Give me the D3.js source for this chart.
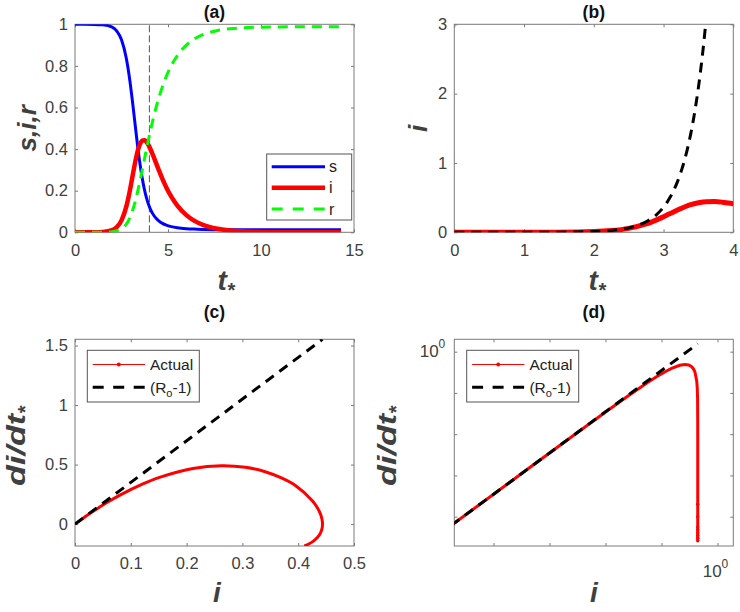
<!DOCTYPE html>
<html><head><meta charset="utf-8">
<script src="https://cdn.jsdelivr.net/npm/d3@7"></script>
<style>body{margin:0;background:#fff}</style>
</head><body>
<svg id="chart" width="740" height="612"></svg>
<script>
// ---------- data ----------
// panel (a): time course of s, i, r
const tA = [0,0.5,1,1.5,2,2.25,2.5,2.75,2.834,2.973,3.078,3.244,3.379,3.501,3.616,3.729,3.843,3.960,4.083,4.215,4.359,4.518,4.699,4.910,5.169,5.503,5.987,6.4,6.877,7.660,8.496,9,10,11,12,13,14.3];
const sA = [0.99999,0.99993,0.99958,0.99755,0.98614,0.96746,0.92563,0.84074,0.79852,0.71355,0.63763,0.50916,0.40567,0.32465,0.25924,0.20701,0.16530,0.13199,0.10540,0.08416,0.06721,0.05367,0.04285,0.03422,0.02732,0.02182,0.01742,0.01531,0.01391,0.01272,0.01216,0.01198,0.01182,0.01175,0.01173,0.01171,0.01171];
const iA = [0.00001,0.0000575,0.000331,0.001904,0.01076,0.02519,0.0572,0.12071,0.15148,0.21145,0.26237,0.34084,0.39433,0.42535,0.44076,0.44299,0.43470,0.41801,0.39460,0.36584,0.33279,0.29634,0.25715,0.21578,0.17268,0.12818,0.08258,0.05599,0.03609,0.01728,0.00785,0.00487,0.00189,0.00073,0.00028,0.00011,0.00003];
const rA = [0,0.0000136,0.0000917,0.000542,0.0031,0.00735,0.01717,0.03855,0.05,0.075,0.1,0.15,0.2,0.25,0.3,0.35,0.4,0.45,0.5,0.55,0.6,0.65,0.7,0.75,0.8,0.85,0.9,0.9287,0.95,0.97,0.98,0.98315,0.98629,0.98752,0.98799,0.98818,0.98826];
const tMark = 4;
// panel (b): early growth, actual i and exponential (R0-1) growth
const tB = [0,0.5,1,1.5,2,2.25,2.5,2.75,2.834,2.973,3.078,3.244,3.379,3.501,3.616,3.729,3.843,3.960,4.0];
const iB = [0.00001,0.0000575,0.000331,0.001904,0.01076,0.02519,0.0572,0.12071,0.15148,0.21145,0.26237,0.34084,0.39433,0.42535,0.44076,0.44299,0.43470,0.41801,0.41105];
const tExp = [0,0.5,1,1.5,2,2.25,2.5,2.6,2.75,2.9,3,3.05,3.1,3.15,3.2,3.25,3.3,3.35,3.4,3.45,3.5,3.55,3.6,3.603];
const iExp = [0.00001,0.0000575,0.000331,0.001906,0.01097,0.0263,0.0631,0.0896,0.1513,0.2559,0.3632,0.4326,0.5153,0.6140,0.7313,0.8713,1.0378,1.2365,1.4727,1.7544,2.0898,2.4893,2.9656,2.997];
// panel (c): phase plot di/dt* vs i
const iC = [0.00001,0.000331,0.001904,0.01076,0.02519,0.0572,0.0814,0.12071,0.15148,0.21145,0.26237,0.30522,0.34084,0.37002,0.39433,0.42535,0.43490,0.44076,0.44335,0.44354,0.44299,0.44002,0.43470,0.42728,0.41801,0.41105];
const dC = [0.000035,0.001158,0.006643,0.03699,0.08448,0.18106,0.24593,0.33598,0.39284,0.46751,0.49046,0.47737,0.44010,0.38756,0.32553,0.19606,0.13284,0.07342,0.01881,0,-0.03032,-0.07374,-0.11135,-0.14325,-0.16973,-0.18420];
// linear approximation (R0-1) i
const iLin = [0.00001,0.44354];
const dLin = [0.000035,1.55239];
// panel (d): same on log-log axes (positive part, then the drop)
const iD = [0.00001,0.000331,0.001904,0.01076,0.02519,0.0572,0.0814,0.12071,0.15148,0.21145,0.26237,0.30522,0.34084,0.37002,0.39433,0.42535,0.43490,0.44076,0.44335,0.44350,0.443535,0.443538,0.44354,0.44354,0.44354,0.44354,0.44354,0.44354,0.44354,0.44354];
const dD = [0.000035,0.001158,0.006643,0.03699,0.08448,0.18106,0.24593,0.33598,0.39284,0.46751,0.49046,0.47737,0.44010,0.38756,0.32553,0.19606,0.13284,0.07342,0.01881,0.008541,0.002481,0.000479,0.0002,0.0001,0.000056,0.000048,0.000041,0.000035,0.000030,0.000026];
// ticks
const ticksAx = [0,5,10,15], ticksAy = [0,0.2,0.4,0.6,0.8,1];
const ticksBx = [0,1,2,3,4], ticksBy = [0,1,2,3];
const ticksCx = [0,0.1,0.2,0.3,0.4,0.5], ticksCy = [0,0.5,1,1.5];
const ticksDx = [1e-4,1e-3,1e-2,1e-1,1], ticksDy = [1e-4,1e-3,1e-2,1e-1,1];

// ---------- drawing ----------
const svg = d3.select('#chart');
const FONT = '"Liberation Sans", Arial, Helvetica, sans-serif';
const TXT = '#404040', BOXC = '#7a7a7a';

const boxes = {
  a:{x0:75,x1:354,y0:24.3,y1:232.3},
  b:{x0:454.3,x1:733.3,y0:24.3,y1:232.3},
  c:{x0:75,x1:354,y0:339.3,y1:546},
  d:{x0:454.3,x1:733.3,y0:339.3,y1:546}
};

function fmtNum(v){ return d3.format('~g')(v); }

function axes(key, x, y, xt, yt, fx, fy){
  const b = boxes[key];
  const g = svg.append('g');
  const style = sel => {
    sel.select('.domain').remove();
    sel.selectAll('line').attr('stroke', BOXC).attr('stroke-width',1);
    sel.selectAll('text').attr('fill', TXT).style('font-family', FONT).style('font-size','16.5px');
  };
  g.append('g').attr('transform',`translate(0,${b.y1})`)
    .call(d3.axisBottom(x).tickValues(xt).tickFormat(fx).tickSizeInner(-3).tickSizeOuter(0).tickPadding(11.5)).call(style);
  g.append('g').attr('transform',`translate(0,${b.y0})`)
    .call(d3.axisTop(x).tickValues(xt).tickFormat('').tickSizeInner(-3).tickSizeOuter(0)).call(style);
  g.append('g').attr('transform',`translate(${b.x0},0)`)
    .call(d3.axisLeft(y).tickValues(yt).tickFormat(fy).tickSizeInner(-3).tickSizeOuter(0).tickPadding(7)).call(style);
  g.append('g').attr('transform',`translate(${b.x1},0)`)
    .call(d3.axisRight(y).tickValues(yt).tickFormat('').tickSizeInner(-3).tickSizeOuter(0)).call(style);
  g.append('rect').attr('x',b.x0).attr('y',b.y0).attr('width',b.x1-b.x0).attr('height',b.y1-b.y0)
    .attr('fill','none').attr('stroke',BOXC).attr('stroke-width',1);
  return g;
}

function clip(key){
  const b = boxes[key];
  svg.append('clipPath').attr('id','clip-'+key).append('rect')
    .attr('x',b.x0).attr('y',b.y0).attr('width',b.x1-b.x0).attr('height',b.y1-b.y0);
  return svg.append('g').attr('clip-path',`url(#clip-${key})`);
}

function title(key, txt, baseline){
  const b = boxes[key];
  svg.append('text').attr('x',(b.x0+b.x1)/2).attr('y',baseline).attr('text-anchor','middle')
    .style('font-family',FONT).style('font-size','17.5px').style('font-weight','bold').attr('fill','#111').text(txt);
}

function xlabel(x, baseline, main, sub){
  const t = svg.append('text').attr('x',x).attr('y',baseline).attr('text-anchor','middle')
    .style('font-family',FONT).style('font-size','28px').style('font-weight','bold').style('font-style','italic').attr('fill',TXT);
  t.append('tspan').text(main);
  if(sub) t.append('tspan').attr('dy',7).style('font-size','20px').text(sub);
}
function ylabel(bx, cy, main, sub, len){
  const t = svg.append('text').attr('transform',`translate(${bx},${cy}) rotate(-90)`).attr('text-anchor','middle')
    .style('font-family',FONT).style('font-size','26px').style('font-weight','bold').style('font-style','italic').attr('fill',TXT);
  const m = t.append('tspan').text(main);
  if(len) m.attr('textLength',len).attr('lengthAdjust','spacingAndGlyphs');
  if(sub) t.append('tspan').attr('dy',7).style('font-size','20px').text(sub);
}

// ----- panel (a) -----
{
  const b = boxes.a;
  const x = d3.scaleLinear().domain([0,15]).range([b.x0,b.x1]);
  const y = d3.scaleLinear().domain([0,1]).range([b.y1,b.y0]);
  axes('a', x, y, ticksAx, ticksAy, fmtNum, fmtNum);
  const g = clip('a');
  const line = arr => d3.line().x((d,k)=>x(tA[k])).y((d,k)=>y(arr[k])).curve(d3.curveMonotoneX)(arr);
  g.append('line').attr('x1',x(tMark)).attr('x2',x(tMark)).attr('y1',y(0)).attr('y2',y(1))
    .attr('stroke','#555').attr('stroke-width',1).attr('stroke-dasharray','7,3');
  g.append('path').attr('d',line(sA)).attr('fill','none').attr('stroke','#0000ff').attr('stroke-width',3);
  g.append('path').attr('d',line(iA)).attr('fill','none').attr('stroke','#ff0000').attr('stroke-width',4.5);
  g.append('path').attr('d',line(rA)).attr('fill','none').attr('stroke','#00ff00').attr('stroke-width',3).attr('stroke-dasharray','10,7');
  title('a','(a)',17.5);
  xlabel(226,290,'t','*');
  ylabel(35.5,128.3,'s,i,r',null,null);
  // legend
  const lg = svg.append('g');
  lg.append('rect').attr('x',266.7).attr('y',154).attr('width',85).attr('height',66).attr('fill','#fff').attr('stroke','#555').attr('stroke-width',1);
  const ent = [['s','#0000ff',3,null,166.7],['i','#ff0000',4.5,null,187.7],['r','#00ff00',3,'11,10',209]];
  ent.forEach(e=>{
    lg.append('line').attr('x1',271.7).attr('x2',325).attr('y1',e[4]).attr('y2',e[4]).attr('stroke',e[1]).attr('stroke-width',e[2]).attr('stroke-dasharray',e[3]);
    lg.append('text').attr('x',329).attr('y',e[4]+5.5).style('font-family',FONT).style('font-size','16px').attr('fill','#222').text(e[0]);
  });
}

// ----- panel (b) -----
{
  const b = boxes.b;
  const x = d3.scaleLinear().domain([0,4]).range([b.x0,b.x1]);
  const y = d3.scaleLinear().domain([0,3]).range([b.y1,b.y0]);
  axes('b', x, y, ticksBx, ticksBy, fmtNum, fmtNum);
  const g = clip('b');
  g.append('path').attr('d', d3.line().x((d,k)=>x(tB[k])).y(d=>y(d)).curve(d3.curveMonotoneX)(iB))
    .attr('fill','none').attr('stroke','#ff0000').attr('stroke-width',5);
  g.append('path').attr('d', d3.line().x((d,k)=>x(tExp[k])).y(d=>y(d)).curve(d3.curveMonotoneX)(iExp))
    .attr('fill','none').attr('stroke','#000').attr('stroke-width',3).attr('stroke-dasharray','10,7');
  title('b','(b)',17.5);
  xlabel(597,290,'t','*');
  ylabel(427,128.3,'i',null,null);
}

function legendPhase(x0){
  const lg = svg.append('g');
  lg.append('rect').attr('x',x0).attr('y',350.3).attr('width',112).attr('height',51.7).attr('fill','#fff').attr('stroke','#555').attr('stroke-width',1);
  lg.append('line').attr('x1',x0+5.4).attr('x2',x0+57.7).attr('y1',364.5).attr('y2',364.5).attr('stroke','#ff0000').attr('stroke-width',1);
  lg.append('circle').attr('cx',x0+31.5).attr('cy',364.5).attr('r',2).attr('fill','#ff0000');
  lg.append('text').attr('x',x0+62.7).attr('y',370).style('font-family',FONT).style('font-size','15.5px').attr('fill','#222').text('Actual');
  lg.append('line').attr('x1',x0+5.4).attr('x2',x0+57.7).attr('y1',387.3).attr('y2',387.3).attr('stroke','#000').attr('stroke-width',3).attr('stroke-dasharray','11,9.5');
  const t = lg.append('text').attr('x',x0+62.7).attr('y',392.8).style('font-family',FONT).style('font-size','15.5px').attr('fill','#222');
  t.append('tspan').text('(R');
  t.append('tspan').attr('dy',4).style('font-size','11px').text('o');
  t.append('tspan').attr('dy',-4).text('-1)');
}

// ----- panel (c) -----
{
  const b = boxes.c;
  const x = d3.scaleLinear().domain([0,0.5]).range([b.x0,b.x1]);
  const y = d3.scaleLinear().domain([-0.1842,1.5526]).range([b.y1,b.y0]);
  axes('c', x, y, ticksCx, ticksCy, fmtNum, fmtNum);
  const g = clip('c');
  g.append('path').attr('d', d3.line().x(d=>x(d)).y((d,k)=>y(dC[k])).curve(d3.curveCatmullRom)(iC))
    .attr('fill','none').attr('stroke','#ff0000').attr('stroke-width',3);
  g.append('path').attr('d', d3.line().x(d=>x(d)).y((d,k)=>y(dLin[k]))(iLin))
    .attr('fill','none').attr('stroke','#000').attr('stroke-width',3).attr('stroke-dasharray','10,7');
  title('c','(c)',317.5);
  xlabel(217,601.7,'i',null);
  ylabel(25,446,'di/dt','*',72);
  legendPhase(87.3);
}

// ----- panel (d) -----
{
  const b = boxes.d;
  const x = d3.scaleLog().domain([Math.pow(10,-4.70),Math.pow(10,0.282)]).range([b.x0,b.x1]);
  const y = d3.scaleLog().domain([Math.pow(10,-4.71),Math.pow(10,0.30)]).range([b.y1,b.y0]);
  axes('d', x, y, ticksDx, ticksDy, ()=>'', ()=>'');
  const g = clip('d');
  g.append('path').attr('d', d3.line().x(d=>x(d)).y((d,k)=>y(dD[k]))(iD))
    .attr('fill','none').attr('stroke','#ff0000').attr('stroke-width',3);
  g.selectAll('circle.mk').data(iD.slice(22)).join('circle').attr('class','mk')
    .attr('cx',d=>x(d)).attr('cy',(d,k)=>y(dD[k+22])).attr('r',1.7).attr('fill','#ff0000');
  g.append('path').attr('d', d3.line().x(d=>x(d)).y((d,k)=>y(dLin[k]))(iLin))
    .attr('fill','none').attr('stroke','#000').attr('stroke-width',3).attr('stroke-dasharray','10,7');
  // decade labels 10^0
  const lx = svg.append('text').attr('x',x(1)-2).attr('y',577).attr('text-anchor','middle')
    .style('font-family',FONT).style('font-size','17px').attr('fill',TXT);
  lx.append('tspan').text('10'); lx.append('tspan').attr('dy',-9).style('font-size','12px').text('0');
  const ly = svg.append('text').attr('x',b.x0-9).attr('y',y(1)+5).attr('text-anchor','end')
    .style('font-family',FONT).style('font-size','17px').attr('fill',TXT);
  ly.append('tspan').text('10'); ly.append('tspan').attr('dy',-9).style('font-size','12px').text('0');
  title('d','(d)',317.5);
  xlabel(593.8,601.7,'i',null);
  ylabel(396,446,'di/dt','*',72);
  legendPhase(466.7);
}
</script>
</body></html>
